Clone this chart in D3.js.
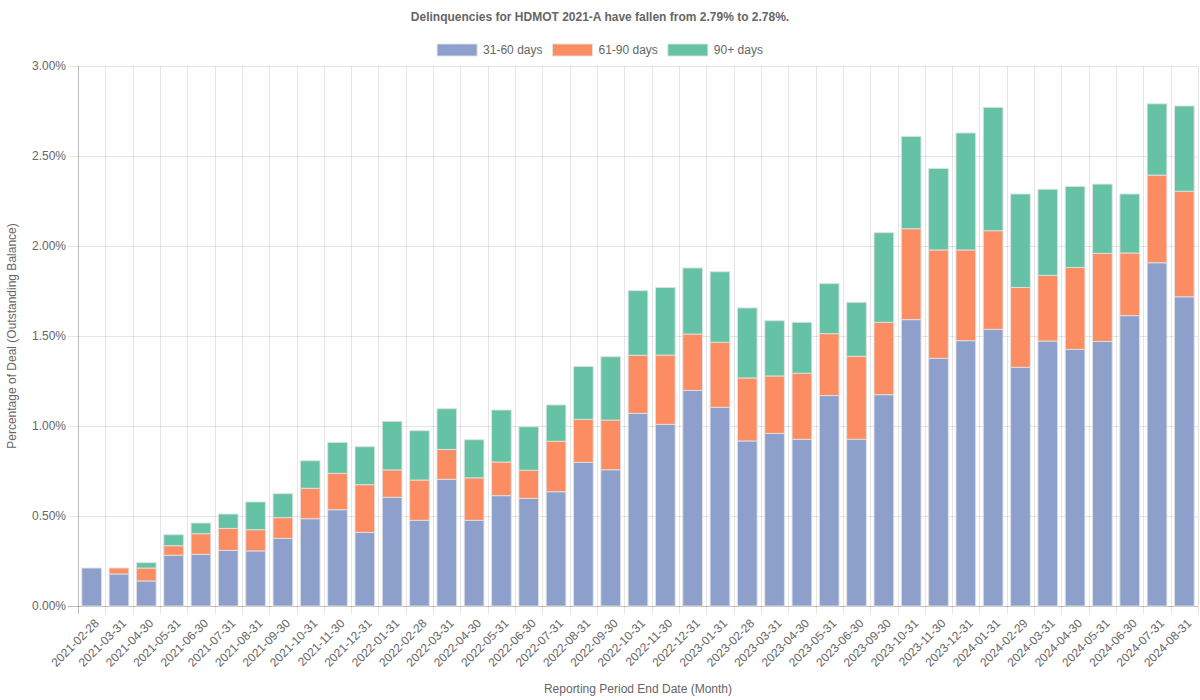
<!DOCTYPE html>
<html>
<head>
<meta charset="utf-8">
<script src="https://cdn.jsdelivr.net/npm/d3@7"></script>
<style>
  html, body { margin: 0; padding: 0; background: #fff; }
  svg { display: block; font-family: "Liberation Sans", Arial, Helvetica, sans-serif; }
</style>
</head>
<body>
<svg id="chart" width="1200" height="700"></svg>
<script>
const categories = [
  "2021-02-28","2021-03-31","2021-04-30","2021-05-31","2021-06-30","2021-07-31","2021-08-31","2021-09-30","2021-10-31","2021-11-30","2021-12-31",
  "2022-01-31","2022-02-28","2022-03-31","2022-04-30","2022-05-31","2022-06-30","2022-07-31","2022-08-31","2022-09-30","2022-10-31","2022-11-30","2022-12-31",
  "2023-01-31","2023-02-28","2023-03-31","2023-04-30","2023-05-31","2023-06-30","2023-09-30","2023-10-31","2023-11-30","2023-12-31",
  "2024-01-31","2024-02-29","2024-03-31","2024-04-30","2024-05-31","2024-06-30","2024-07-31","2024-08-31"
];
const days31_60 = [
  0.211,0.178,0.139,0.282,0.287,0.309,0.306,0.376,0.485,0.535,0.409,
  0.604,0.476,0.704,0.476,0.613,0.598,0.635,0.798,0.757,1.070,1.009,1.198,
  1.104,0.917,0.959,0.926,1.169,0.926,1.174,1.591,1.376,1.474,
  1.537,1.326,1.472,1.426,1.470,1.613,1.907,1.718
];
const days61_90 = [
  0.000,0.033,0.072,0.053,0.115,0.122,0.118,0.115,0.169,0.202,0.265,
  0.152,0.224,0.166,0.236,0.187,0.156,0.280,0.239,0.276,0.323,0.385,0.313,
  0.361,0.350,0.319,0.367,0.344,0.461,0.402,0.505,0.602,0.504,
  0.548,0.444,0.365,0.455,0.489,0.348,0.487,0.586
];
const days90plus = [
  0.000,0.000,0.030,0.061,0.059,0.080,0.154,0.133,0.153,0.172,0.211,
  0.270,0.274,0.226,0.212,0.289,0.242,0.202,0.294,0.352,0.359,0.376,0.367,
  0.392,0.389,0.307,0.283,0.278,0.300,0.498,0.513,0.453,0.650,
  0.685,0.519,0.478,0.450,0.385,0.328,0.396,0.474
];
const seriesNames = ["31-60 days","61-90 days","90+ days"];
const seriesColors = ["#8da0cb","#fc8d62","#66c2a5"];
const yTicks = [0,0.5,1.0,1.5,2.0,2.5,3.0];
const titleText = "Delinquencies for HDMOT 2021-A have fallen from 2.79% to 2.78%.";
const xTitle = "Reporting Period End Date (Month)";
const yTitle = "Percentage of Deal (Outstanding Balance)";

const svg = d3.select("#chart");
const L = 78, R = 1198, T = 66, B = 606;
const gridColor = "rgba(0,0,0,0.1)";
const textColor = "#666";

const x = d3.scaleBand().domain(categories).range([L, R]).paddingInner(0.28).paddingOuter(0.14);
const y = d3.scaleLinear().domain([0, 3]).range([B, T]);
const step = x.step();

// Horizontal gridlines + y tick marks
svg.append("g").selectAll("line").data(yTicks).join("line")
  .attr("x1", L - 10).attr("x2", R)
  .attr("y1", d => Math.round(y(d)) + 0.5).attr("y2", d => Math.round(y(d)) + 0.5)
  .attr("stroke", d => d === 0 ? "rgba(0,0,0,0.25)" : gridColor).attr("stroke-width", 1);

// Vertical gridlines at band boundaries
const bounds = categories.map(c => x(c) - step * 0.14).concat([R]);
svg.append("g").selectAll("line").data(bounds).join("line")
  .attr("x1", d => Math.round(d) + 0.5).attr("x2", d => Math.round(d) + 0.5)
  .attr("y1", T).attr("y2", B + 8)
  .attr("stroke", (d, i) => i === 0 ? "rgba(0,0,0,0.25)" : gridColor).attr("stroke-width", 1);

// Y tick labels
svg.append("g").selectAll("text").data(yTicks).join("text")
  .attr("x", L - 12).attr("y", d => y(d)).attr("dy", "0.35em")
  .attr("text-anchor", "end").attr("font-size", 12).attr("fill", textColor)
  .text(d => d.toFixed(2) + "%");

// Stacked bars
const rows = categories.map((c, i) => ({cat: c, s0: days31_60[i], s1: days61_90[i], s2: days90plus[i]}));
const stack = d3.stack().keys(["s0","s1","s2"])(rows);
stack.forEach((layer, k) => {
  svg.append("g").selectAll("rect").data(layer).join("rect")
    .attr("x", d => x(d.data.cat))
    .attr("width", x.bandwidth())
    .attr("y", d => y(d[1]))
    .attr("height", d => Math.max(0, y(d[0]) - y(d[1])))
    .attr("fill", seriesColors[k])
    .attr("stroke", "rgba(225,225,225,0.9)").attr("stroke-width", d => (d[1] - d[0]) > 0 ? 1 : 0);
});

// X tick labels
svg.append("g").selectAll("text").data(categories).join("text")
  .attr("transform", d => `translate(${x(d) + x.bandwidth() / 2 + 5},${B + 15}) rotate(-45)`)
  .attr("text-anchor", "end").attr("dy", "0.35em")
  .attr("font-size", 12).attr("fill", textColor)
  .text(d => d);

// Title
svg.append("text").attr("x", 600).attr("y", 21).attr("text-anchor", "middle")
  .attr("font-size", 12).attr("font-weight", "bold").attr("fill", textColor).text(titleText);

// Axis titles
svg.append("text").attr("x", 638).attr("y", 693).attr("text-anchor", "middle")
  .attr("font-size", 12).attr("fill", textColor).text(xTitle);
svg.append("text").attr("transform", `translate(12,${(T + B) / 2}) rotate(-90)`)
  .attr("text-anchor", "middle").attr("dy", "0.35em")
  .attr("font-size", 12).attr("fill", textColor).text(yTitle);

// Legend
const lg = svg.append("g");
const items = seriesNames.map((n, i) => {
  const g = lg.append("g");
  g.append("rect").attr("width", 40).attr("height", 12).attr("y", 44)
    .attr("fill", seriesColors[i]).attr("stroke", "rgba(225,225,225,0.9)").attr("stroke-width", 1);
  const t = g.append("text").attr("x", 46).attr("y", 50).attr("dy", "0.35em")
    .attr("font-size", 12).attr("fill", textColor).text(n);
  return {g, w: 46 + t.node().getComputedTextLength()};
});
const gap = 10;
const total = d3.sum(items, d => d.w) + gap * (items.length - 1);
let cx = 600 - total / 2;
items.forEach(it => { it.g.attr("transform", `translate(${cx},0)`); cx += it.w + gap; });
</script>
</body>
</html>
